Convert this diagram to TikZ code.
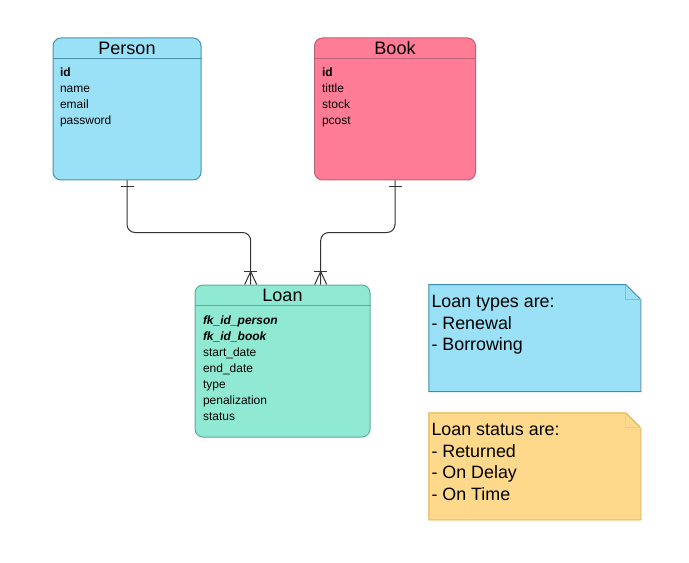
\documentclass[tikz,border=0pt]{standalone}
\usepackage{fontspec}
\setmainfont{Liberation Sans}
\usetikzlibrary{calc}

\definecolor{personfill}{RGB}{154,225,248}
\definecolor{personline}{RGB}{74,145,172}
\definecolor{bookfill}{RGB}{255,124,151}
\definecolor{bookline}{RGB}{190,98,121}
\definecolor{loanfill}{RGB}{144,234,211}
\definecolor{loanline}{RGB}{95,172,150}
\definecolor{typesfill}{RGB}{154,225,248}
\definecolor{typesline}{RGB}{60,139,168}
\definecolor{statusfill}{RGB}{255,217,139}
\definecolor{statusline}{RGB}{222,172,58}

\tikzset{every picture/.style={line width=0.75pt}}
\tikzset{
  entity/.style={draw, rounded corners=6pt, inner sep=0pt},
  entitle/.style={inner sep=0pt, font=\fontsize{13.5}{15}\selectfont},
  attr/.style={anchor=base west, inner sep=0pt, font=\fontsize{9}{11}\selectfont},
  notebox/.style={inner sep=0pt, minimum width=158.25pt},
  notetext/.style={anchor=base west, inner sep=0pt, font=\fontsize{13.4}{16}\selectfont},
  rel/.style={color=black!80, line width=0.75pt}
}

\begin{document}
\begin{tikzpicture}[x=0.75pt,y=0.75pt,yscale=-1,xscale=1]
\useasboundingbox (0,0) rectangle (689,563);

%Entity: Person
\node [entity, fill=personfill, draw=personline, minimum width=111pt, minimum height=106.5pt] (person) at (127,109) {};
\draw [personline] ($(person.north west)+(0,21.5)$) -- ($(person.north east)+(0,21.5)$);
\node [entitle] (persontitle) at ($(person.north)+(0,11)$) {Person};
\foreach \attr [count=\i] in {\textbf{id},name,email,password}
  \node [attr] (person-\i) at (59.5,60.5+16*\i) {\attr};

%Entity: Book
\node [entity, fill=bookfill, draw=bookline, minimum width=120.75pt, minimum height=106.5pt] (book) at (395,109) {};
\draw [bookline] ($(book.north west)+(0,21.5)$) -- ($(book.north east)+(0,21.5)$);
\node [entitle] (booktitle) at ($(book.north)+(0,11)$) {Book};
\foreach \attr [count=\i] in {\textbf{id},tittle,stock,pcost}
  \node [attr] (book-\i) at (321.5,60.5+16*\i) {\attr};

%Entity: Loan
\node [entity, fill=loanfill, draw=loanline, minimum width=131.25pt, minimum height=114pt] (loan) at (282.5,361) {};
\draw [loanline] ($(loan.north west)+(0,21)$) -- ($(loan.north east)+(0,21)$);
\node [entitle] (loantitle) at ($(loan.north)+(0,10.5)$) {Loan};
\foreach \attr [count=\i] in {\textbf{\textit{fk\_id\_person}},\textbf{\textit{fk\_id\_book}},start\_date,end\_date,type,penalization,status}
  \node [attr] (loan-\i) at (202.5,308+16*\i) {\attr};

%Relations
\coordinate (loanA) at ($(loan.north)+(-31.8,0)$);
\coordinate (loanB) at ($(loan.north)+(38.2,0)$);
\draw [rel, rounded corners=6pt] (person.south) -- ++(0,52) -| (loanA);
\draw [rel, rounded corners=6pt] (book.south) -- ++(0,52) -| (loanB);
% one end
\foreach \e in {person,book}
  \draw [rel] ($(\e.south)+(-6.5,6)$) -- ($(\e.south)+(6.5,6)$);
% many end
\foreach \e in {loanA,loanB}{
  \draw [rel] ($(\e)+(-6.5,-13)$) -- ($(\e)+(6.5,-13)$);
  \draw [rel] ($(\e)+(-6,0)$) -- ($(\e)+(0,-13)$) -- ($(\e)+(6,0)$);
}

%Shape: Note types
\node [notebox, fill=typesfill, minimum height=79.5pt] (types) at (534.75,338) {};
\fill [white] ($(types.north east)+(-15,0)$) -- (types.north east) -- ($(types.north east)+(0,15)$) -- cycle;
\draw [typesline] (types.north west) -- ($(types.north east)+(-15,0)$) -- ($(types.north east)+(0,15)$) -- (types.south east) -- (types.south west) -- cycle;
\draw [typesline!60] ($(types.north east)+(-15,0)$) -- ++(0,15) -- ++(15,0);
\foreach \txt [count=\i] in {Loan types are:,- Renewal,- Borrowing}
  \node [notetext] (types-\i) at (431,286+21.5*\i) {\txt};

%Shape: Note status
\node [notebox, fill=statusfill, minimum height=79.5pt] (status) at (534.75,466.25) {};
\fill [white] ($(status.north east)+(-15,0)$) -- (status.north east) -- ($(status.north east)+(0,15)$) -- cycle;
\draw [statusline] (status.north west) -- ($(status.north east)+(-15,0)$) -- ($(status.north east)+(0,15)$) -- (status.south east) -- (status.south west) -- cycle;
\draw [statusline!60] ($(status.north east)+(-15,0)$) -- ++(0,15) -- ++(15,0);
\foreach \txt [count=\i] in {Loan status are:,- Returned,- On Delay,- On Time}
  \node [notetext] (status-\i) at (431,414.5+21.4*\i) {\txt};

\end{tikzpicture}
\end{document}
